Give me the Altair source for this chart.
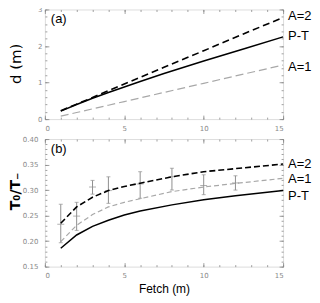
import altair as alt
import pandas as pd

# ---- panel (a): water depth vs fetch ----
fetch_a = [1, 2, 3, 4, 5, 6, 7.5, 10, 12.5, 15]
d_a2 = [0.23, 0.41, 0.59, 0.78, 0.96, 1.14, 1.42, 1.87, 2.33, 2.78]
d_pt = [0.22, 0.40, 0.57, 0.73, 0.88, 1.03, 1.25, 1.59, 1.92, 2.25]
d_a1 = [0.08, 0.18, 0.28, 0.38, 0.48, 0.58, 0.73, 0.98, 1.23, 1.48]

# ---- panel (b): T0/T- vs fetch ----
fetch_b = [1, 2, 3, 4, 5, 6, 8, 10, 12, 15]
r_a2 = [0.235, 0.267, 0.286, 0.299, 0.307, 0.3135, 0.326, 0.336, 0.342, 0.351]
r_a1 = [0.199, 0.231, 0.252, 0.267, 0.276, 0.283, 0.297, 0.306, 0.313, 0.323]
r_pt = [0.186, 0.212, 0.229, 0.241, 0.251, 0.259, 0.271, 0.281, 0.289, 0.299]

obs_x = [1, 2, 3, 4, 6, 8, 10, 12]
obs_mid = [0.233, 0.249, 0.306, 0.299, 0.312, 0.326, 0.309, 0.314]
obs_lo = [0.197, 0.221, 0.292, 0.274, 0.284, 0.300, 0.291, 0.300]
obs_hi = [0.272, 0.276, 0.319, 0.326, 0.336, 0.343, 0.330, 0.328]

label_names = ["A=2", "P-T", "A=1"]
label_y_a = [2.82, 2.27, 1.42]
label_y_b = [0.352, 0.2887, 0.3225]

x_major = [0, 5, 10, 15]
x_minor = list(range(0, 16))
ya_major = [0, 1, 2, 3]
ya_minor = [round(i * 0.2, 2) for i in range(0, 16)]
yb_major = [0.15, 0.20, 0.25, 0.30, 0.35, 0.40]
yb_minor = [round(0.15 + i * 0.01, 2) for i in range(0, 26)]

W = 239
HA = 110
HB = 128
TICK = "#888888"
LAB = "#8a8a8a"
FONT = "Liberation Sans"

xs = alt.Scale(domain=[0, 15], nice=False, zero=False)


def tick_layer(df, ys, xo, yo, size, xv, yv):
    return alt.Chart(df).mark_line(strokeOpacity=0).encode(
        x=alt.X("x:Q", scale=xs, axis=alt.Axis(orient=xo, values=xv, labels=False, domain=False,
                                               grid=False, tickSize=size, offset=-size,
                                               tickColor=TICK, tickWidth=0.8, title=None)),
        y=alt.Y("y:Q", scale=ys, axis=alt.Axis(orient=yo, values=yv, labels=False, domain=False,
                                               grid=False, tickSize=size, offset=-size,
                                               tickColor=TICK, tickWidth=0.8, title=None)),
    )


def panel(fetch, a2, pt, a1, ydom, ymaj, ymin, yfmt, ytitle, ytitle_x, ytitle_y, ytitle_size,
          ytitle_w, ylabpad, h, letter, lab_y, xtitle, dash2, dash1, extra=None):
    ys = alt.Scale(domain=ydom, nice=False, zero=False)
    df2 = pd.DataFrame({"x": fetch, "y": a2})
    dfp = pd.DataFrame({"x": fetch, "y": pt})
    df1 = pd.DataFrame({"x": fetch, "y": a1})

    xaxis = alt.Axis(values=x_major, labelFontSize=7, labelColor=LAB, labelFont="DejaVu Sans",
                     ticks=False, domain=False, grid=False, labelPadding=5,
                     title=xtitle if xtitle else None, titleFont=FONT, titleFontSize=12,
                     titleFontWeight="normal", titleColor="black", titleY=26,
                     titleBaseline="alphabetic")
    yaxis = alt.Axis(values=ymaj, format=yfmt, labelFontSize=7, labelColor=LAB,
                     labelFont="DejaVu Sans", ticks=False, domain=False, grid=False,
                     labelPadding=ylabpad, title=ytitle, titleFont="DejaVu Sans",
                     titleFontSize=ytitle_size, titleFontWeight=ytitle_w, titleColor="black",
                     titleX=ytitle_x, titleY=ytitle_y, titleBaseline="bottom",
                     titleAlign="center", titleAngle=-90)

    base_a1 = alt.Chart(df1).mark_line(color="#a8a8a8", strokeWidth=1.2, strokeDash=dash1).encode(
        x=alt.X("x:Q", scale=xs, axis=xaxis),
        y=alt.Y("y:Q", scale=ys, axis=yaxis),
    )
    l_pt = alt.Chart(dfp).mark_line(color="black", strokeWidth=1.5).encode(
        x=alt.X("x:Q", scale=xs, axis=None), y=alt.Y("y:Q", scale=ys, axis=None))
    l_a2 = alt.Chart(df2).mark_line(color="black", strokeWidth=1.6, strokeDash=dash2).encode(
        x=alt.X("x:Q", scale=xs, axis=None), y=alt.Y("y:Q", scale=ys, axis=None))

    labs = pd.DataFrame({"x": [15] * 3, "y": lab_y, "t": label_names})
    l_lab = alt.Chart(labs).mark_text(align="left", baseline="middle", dx=5, fontSize=13,
                                      font=FONT, color="black").encode(
        x=alt.X("x:Q", scale=xs, axis=None), y=alt.Y("y:Q", scale=ys, axis=None), text="t:N")
    l_let = alt.Chart(pd.DataFrame({"t": [letter]})).mark_text(
        align="left", baseline="middle", fontSize=13, font=FONT, color="black").encode(
        x=alt.value(6), y=alt.value(10), text="t:N")

    layers = [base_a1]
    if extra is not None:
        layers += extra(ys)
    layers += [l_pt, l_a2, l_lab, l_let,
               tick_layer(df1, ys, "bottom", "left", 4, x_major, ymaj),
               tick_layer(df1, ys, "top", "right", 4, x_major, ymaj),
               tick_layer(df1, ys, "bottom", "left", 2, x_minor, ymin),
               tick_layer(df1, ys, "top", "right", 2, x_minor, ymin)]
    return alt.layer(*layers).resolve_axis(x="independent", y="independent").properties(
        width=W, height=h)


def errbars(ys):
    obs = pd.DataFrame({"x": obs_x, "m": obs_mid, "lo": obs_lo, "hi": obs_hi})
    xe = alt.X("x:Q", scale=xs, axis=None)
    col = "#909090"
    rule = alt.Chart(obs).mark_rule(color=col, strokeWidth=1).encode(
        x=xe, y=alt.Y("lo:Q", scale=ys, axis=None), y2="hi:Q")
    cap_hi = alt.Chart(obs).mark_tick(orient="horizontal", size=4, thickness=1, color=col).encode(
        x=xe, y=alt.Y("hi:Q", scale=ys, axis=None))
    cap_lo = alt.Chart(obs).mark_tick(orient="horizontal", size=4, thickness=1, color=col).encode(
        x=xe, y=alt.Y("lo:Q", scale=ys, axis=None))
    mid = alt.Chart(obs).mark_tick(orient="horizontal", size=7, thickness=1, color=col).encode(
        x=xe, y=alt.Y("m:Q", scale=ys, axis=None))
    return [rule, cap_hi, cap_lo, mid]


top = panel(fetch_a, d_a2, d_pt, d_a1, [0, 3], ya_major, ya_minor, "d", "d (m)", -21, 54, 15,
            "normal", 3, HA, "(a)", label_y_a, None, [7, 4], [8, 4])
bottom = panel(fetch_b, r_a2, r_pt, r_a1, [0.15, 0.40], yb_major, yb_minor, ".2f", "T₀/T₋",
               -22, 52, 14, "bold", 7, HB, "(b)", label_y_b, "Fetch (m)", [6, 3], [5, 3],
               extra=errbars)

chart = alt.vconcat(top, bottom, spacing=20, bounds="flush").properties(
    padding={"left": 0, "top": -4, "right": 0, "bottom": 0},
).configure_view(stroke="#666666", strokeWidth=1).configure(background="white")

chart.save("out.html", embed_options={"renderer": "svg", "actions": False})
